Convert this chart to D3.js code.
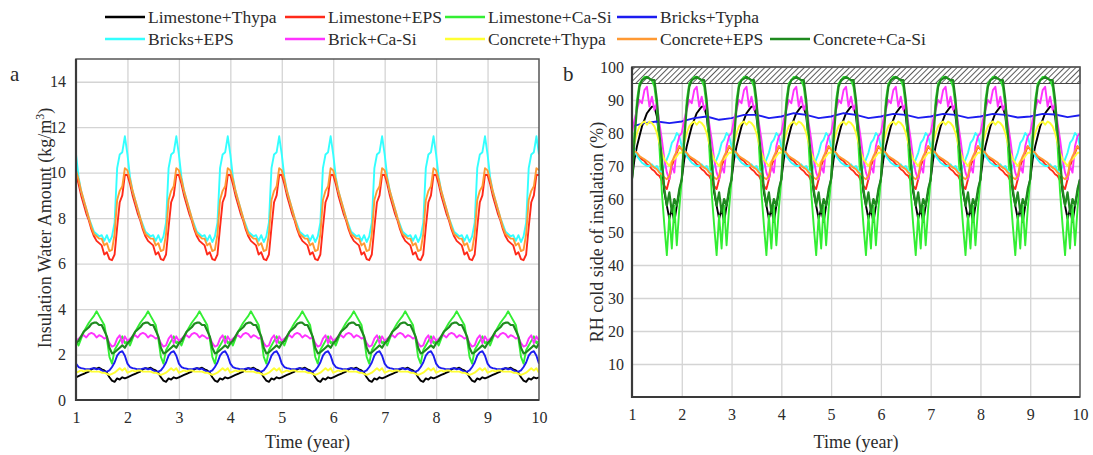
<!DOCTYPE html>
<html>
<head>
<meta charset="utf-8">
<script src="https://cdn.jsdelivr.net/npm/d3@7"></script>
<style>
  body { margin: 0; background: #fff; }
  svg text { font-family: "Liberation Serif", "Times New Roman", serif; fill: #2b2b2b; }
</style>
</head>
<body>
<div id="chart"></div>
<script>
// series names & colours (legend order)
const seriesNames = ['Limestone+Thypa', 'Limestone+EPS', 'Limestone+Ca-Si', 'Bricks+Typha',
    'Bricks+EPS', 'Brick+Ca-Si', 'Concrete+Thypa', 'Concrete+EPS', 'Concrete+Ca-Si'];
const seriesColors = ['#000000', '#ff2a1a', '#33ee33', '#1c1cf0',
    '#33ffff', '#ff33ff', '#ffff33', '#ff9933', '#1f8a1f'];

const years = [1, 2, 3, 4, 5, 6, 7, 8, 9, 10];
// position inside one year of the read values (the runs repeat every year)
const phase = [0, .05, .10, .15, .20, .25, .30, .35, .40, .45,
    .50, .55, .60, .65, .70, .75, .80, .85, .90, .95];

// panel a: insulation water amount (kg/m3), one yearly cycle per series
const waterLimestoneThypa = [1.0, 1.05, 1.1, 1.15, 1.2, 1.25, 1.35, 1.4, 1.38, 1.42, 1.35, 1.3, 1.2, 1.0, 0.85, 0.8, 0.95, 0.9, 1.0, 0.95];
const waterLimestoneEPS = [9.9, 9.5, 9.0, 8.6, 8.2, 7.9, 7.5, 7.2, 7.0, 6.9, 6.8, 6.4, 6.5, 6.2, 6.15, 6.4, 7.6, 8.7, 9.0, 9.9];
const waterLimestoneCaSi = [2.6, 2.4, 2.7, 3.0, 3.2, 3.4, 3.55, 3.7, 3.9, 3.7, 3.5, 3.3, 2.7, 1.9, 1.6, 2.2, 2.4, 2.6, 2.8, 2.5];
const waterBricksTypha = [1.6, 1.45, 1.4, 1.38, 1.35, 1.35, 1.38, 1.4, 1.35, 1.38, 1.3, 1.25, 1.25, 1.3, 1.45, 1.65, 1.95, 2.1, 2.15, 1.95];
const waterBricksEPS = [10.8, 9.8, 9.2, 8.8, 8.4, 8.0, 7.7, 7.4, 7.3, 7.2, 7.25, 7.0, 7.25, 6.95, 7.2, 7.8, 10.2, 10.8, 10.9, 11.6];
const waterBrickCaSi = [2.6, 2.7, 2.8, 2.85, 2.75, 2.9, 2.95, 2.9, 2.75, 2.85, 2.8, 2.7, 2.75, 2.5, 2.35, 2.4, 2.7, 2.85, 2.5, 2.8];
const waterConcreteThypa = [1.2, 1.25, 1.3, 1.25, 1.3, 1.3, 1.25, 1.25, 1.25, 1.25, 1.2, 1.2, 1.15, 1.1, 1.15, 1.2, 1.3, 1.4, 1.3, 1.4];
const waterConcreteEPS = [10.1, 9.7, 9.2, 8.8, 8.4, 8.0, 7.6, 7.3, 7.2, 7.1, 7.1, 6.8, 6.9, 6.55, 6.6, 7.3, 8.8, 9.2, 9.4, 10.2];
const waterConcreteCaSi = [2.5, 2.6, 2.8, 3.0, 3.1, 3.2, 3.35, 3.4, 3.4, 3.3, 3.3, 3.05, 2.8, 2.3, 2.05, 2.1, 2.2, 2.3, 2.4, 2.3];

// panel b: RH on the cold side of insulation (%), one yearly cycle per series
const rhLimestoneThypa = [66, 72, 76, 79, 82, 84, 86, 87, 88, 88, 85, 78, 70, 62, 58, 54, 57, 53, 58, 62];
const rhLimestoneEPS = [75, 74, 73.5, 72.5, 72, 71.5, 70.5, 70, 69, 68.5, 67.5, 67, 65.5, 64, 63, 66, 70, 72, 74, 76];
const rhLimestoneCaSi = [66, 80, 90, 95, 96, 97, 97, 96.5, 96, 94, 88, 76, 62, 52, 43, 55, 45, 58, 46, 57];
const rhBricksEPS = [76, 75, 73, 72, 71, 70.5, 70, 70, 70.5, 69.5, 70, 68.5, 68, 70, 72, 74, 77, 78, 80, 79];
const rhBrickCaSi = [80, 84, 87, 90, 89, 93, 94, 88, 91, 87, 89, 83, 78, 72, 68, 66, 70, 68, 76, 79];
const rhConcreteThypa = [74, 77, 80, 82, 83, 83.5, 82.5, 83.5, 83, 82, 80, 77, 74, 72, 71, 70, 71.5, 72, 73, 74];
const rhConcreteEPS = [75, 74.5, 74, 73, 72.5, 72, 71.5, 71, 70, 69.5, 69, 68, 67.5, 66.5, 66, 67, 71, 73, 74.5, 76];
const rhConcreteCaSi = [66, 78, 88, 94, 96, 96.5, 97, 96.5, 96, 96, 90, 80, 72, 63, 58, 62, 56, 60, 58, 63];
// Bricks+Typha drifts slowly instead of repeating: read every quarter year from 1 to 10
const rhBricksTypha = [82, 83, 83.5, 83, 83.5, 84.5, 85, 84, 84.5, 85.5, 85.5, 84.5, 85, 86, 85.5, 84.5,
    85, 86, 85.5, 84.5, 85, 85.8, 85.5, 84.6, 85, 85.8, 85.5, 84.6, 85, 85.8, 85.5, 84.7, 85, 85.8, 85.6, 84.8, 85.4];

const waterTicks = [0, 2, 4, 6, 8, 10, 12, 14];
const rhTicks = [10, 20, 30, 40, 50, 60, 70, 80, 90, 100];

// repeat a read yearly cycle over the 9 simulated years
function tile(cycle) {
    const pts = [];
    for (let y = 1; y < 10; y++) {
        phase.forEach((p, i) => pts.push({ t: y + p, v: cycle[i] }));
    }
    pts.push({ t: 10, v: cycle[0] });
    return pts;
}

const waterSeries = [waterLimestoneThypa, waterLimestoneEPS, waterLimestoneCaSi, waterBricksTypha,
    waterBricksEPS, waterBrickCaSi, waterConcreteThypa, waterConcreteEPS, waterConcreteCaSi].map(tile);

const rhQuarter = d3.range(rhBricksTypha.length).map(i => 1 + i * 0.25);
const rhSeries = [
    tile(rhLimestoneThypa), tile(rhLimestoneEPS), tile(rhLimestoneCaSi),
    rhBricksTypha.map((v, i) => ({ t: rhQuarter[i], v: v })),
    tile(rhBricksEPS), tile(rhBrickCaSi), tile(rhConcreteThypa), tile(rhConcreteEPS), tile(rhConcreteCaSi)
];

const W = 1093, H = 455;
const svg = d3.select('#chart').append('svg')
    .attr('width', W).attr('height', H);

svg.append('rect').attr('width', W).attr('height', H).attr('fill', '#fff');

const defs = svg.append('defs');
const hatch = defs.append('pattern')
    .attr('id', 'hatch')
    .attr('width', 4).attr('height', 4)
    .attr('patternUnits', 'userSpaceOnUse')
    .attr('patternTransform', 'rotate(45)');
hatch.append('rect').attr('width', 4).attr('height', 4).attr('fill', '#fff');
hatch.append('line')
    .attr('x1', 0).attr('y1', 0).attr('x2', 0).attr('y2', 4)
    .attr('stroke', '#4a4a4a').attr('stroke-width', 1.8);

function drawPanel(opts) {
    const x = d3.scaleLinear().domain([1, 10]).range([opts.left, opts.right]);
    const y = d3.scaleLinear().domain(opts.yDomain).range([opts.bottom, opts.top]);
    const g = svg.append('g');

    defs.append('clipPath').attr('id', opts.id + '-clip')
        .append('rect')
        .attr('x', opts.left).attr('y', opts.top)
        .attr('width', opts.right - opts.left).attr('height', opts.bottom - opts.top);

    // grid
    g.append('g')
        .attr('transform', `translate(0, ${opts.bottom})`)
        .call(d3.axisBottom(x).tickValues(years.slice(1, -1)).tickSize(-(opts.bottom - opts.top)).tickFormat(''))
        .call(s => s.select('.domain').remove())
        .selectAll('line').attr('stroke', '#d4d4d4').attr('stroke-width', 1.3);

    g.append('g')
        .attr('transform', `translate(${opts.left}, 0)`)
        .call(d3.axisLeft(y).tickValues(opts.grid).tickSize(-(opts.right - opts.left)).tickFormat(''))
        .call(s => s.select('.domain').remove())
        .selectAll('line').attr('stroke', '#d4d4d4').attr('stroke-width', 1.3);

    if (opts.hatchFrom != null) {
        g.append('rect')
            .attr('x', opts.left).attr('y', y(opts.yDomain[1]))
            .attr('width', opts.right - opts.left)
            .attr('height', y(opts.hatchFrom) - y(opts.yDomain[1]))
            .attr('fill', 'url(#hatch)')
            .attr('stroke', '#444').attr('stroke-width', 1);
    }

    const line = d3.line().x(d => x(d.t)).y(d => y(d.v));
    g.append('g')
        .attr('clip-path', `url(#${opts.id}-clip)`)
        .selectAll('path')
        .data(opts.series)
        .enter()
        .append('path')
        .attr('d', line)
        .attr('fill', 'none')
        .attr('stroke', (d, i) => seriesColors[i])
        .attr('stroke-width', (d, i) => i === 8 ? 2.2 : 1.9)
        .attr('stroke-linejoin', 'round');

    // frame
    g.append('rect')
        .attr('x', opts.left).attr('y', opts.top)
        .attr('width', opts.right - opts.left).attr('height', opts.bottom - opts.top)
        .attr('fill', 'none').attr('stroke', '#555').attr('stroke-width', 1.5);
    g.append('line')
        .attr('x1', opts.left).attr('x2', opts.left).attr('y1', opts.top).attr('y2', opts.bottom + 1)
        .attr('stroke', '#3a3a3a').attr('stroke-width', 2.2);
    g.append('line')
        .attr('x1', opts.left).attr('x2', opts.right).attr('y1', opts.bottom).attr('y2', opts.bottom)
        .attr('stroke', '#3a3a3a').attr('stroke-width', 2.2);

    // axes labels
    const xAxis = g.append('g')
        .attr('transform', `translate(0, ${opts.bottom})`)
        .call(d3.axisBottom(x).tickValues(years).tickSize(0).tickPadding(opts.xPad));
    xAxis.select('.domain').remove();
    xAxis.selectAll('text').style('font-size', '16px').attr('fill', '#2b2b2b');

    const yAxis = g.append('g')
        .attr('transform', `translate(${opts.left}, 0)`)
        .call(d3.axisLeft(y).tickValues(opts.ticks).tickSize(0).tickPadding(opts.yPad));
    yAxis.select('.domain').remove();
    yAxis.selectAll('text').style('font-size', '16px').attr('fill', '#2b2b2b');

    g.append('text')
        .attr('x', (opts.left + opts.right) / 2)
        .attr('y', 448)
        .attr('text-anchor', 'middle')
        .style('font-size', '18px')
        .text('Time (year)');

    g.append('text')
        .attr('transform', `translate(${opts.titleX}, ${opts.titleY}) rotate(-90)`)
        .attr('text-anchor', 'middle')
        .style('font-size', '18px')
        .html(opts.yTitle);

    g.append('text')
        .attr('x', opts.letterX).attr('y', 81)
        .style('font-size', '21px')
        .text(opts.letter);
}

drawPanel({
    id: 'a', left: 76, right: 539, top: 59, bottom: 400,
    yDomain: [0, 15], ticks: waterTicks, grid: waterTicks.slice(1),
    series: waterSeries, xPad: 12, yPad: 10,
    titleX: 51, titleY: 228,
    yTitle: 'Insulation Water Amount (kg/m<tspan dy="-7" style="font-size:12px">3</tspan><tspan dy="7">)</tspan>',
    letter: 'a', letterX: 10
});

drawPanel({
    id: 'b', left: 632, right: 1080, top: 67, bottom: 397,
    yDomain: [0, 100], ticks: rhTicks, grid: rhTicks.slice(0, -1),
    series: rhSeries, hatchFrom: 95, xPad: 12, yPad: 8,
    titleX: 603, titleY: 232,
    yTitle: 'RH cold side of insulation (%)',
    letter: 'b', letterX: 563
});

// legend, two rows
const legendCols = [105, 285, 445, 617, 770];
seriesNames.forEach((name, i) => {
    const row = i < 4 ? 0 : 1;
    const col = i < 4 ? i : i - 4;
    const ly = row === 0 ? 17 : 39;
    const lx = legendCols[col];
    const item = svg.append('g');
    item.append('line')
        .attr('x1', lx).attr('x2', lx + 40)
        .attr('y1', ly).attr('y2', ly)
        .attr('stroke', seriesColors[i]).attr('stroke-width', 2.5);
    item.append('text')
        .attr('x', lx + 43).attr('y', ly + 6)
        .style('font-size', '17.5px')
        .text(name);
});
</script>
</body>
</html>
